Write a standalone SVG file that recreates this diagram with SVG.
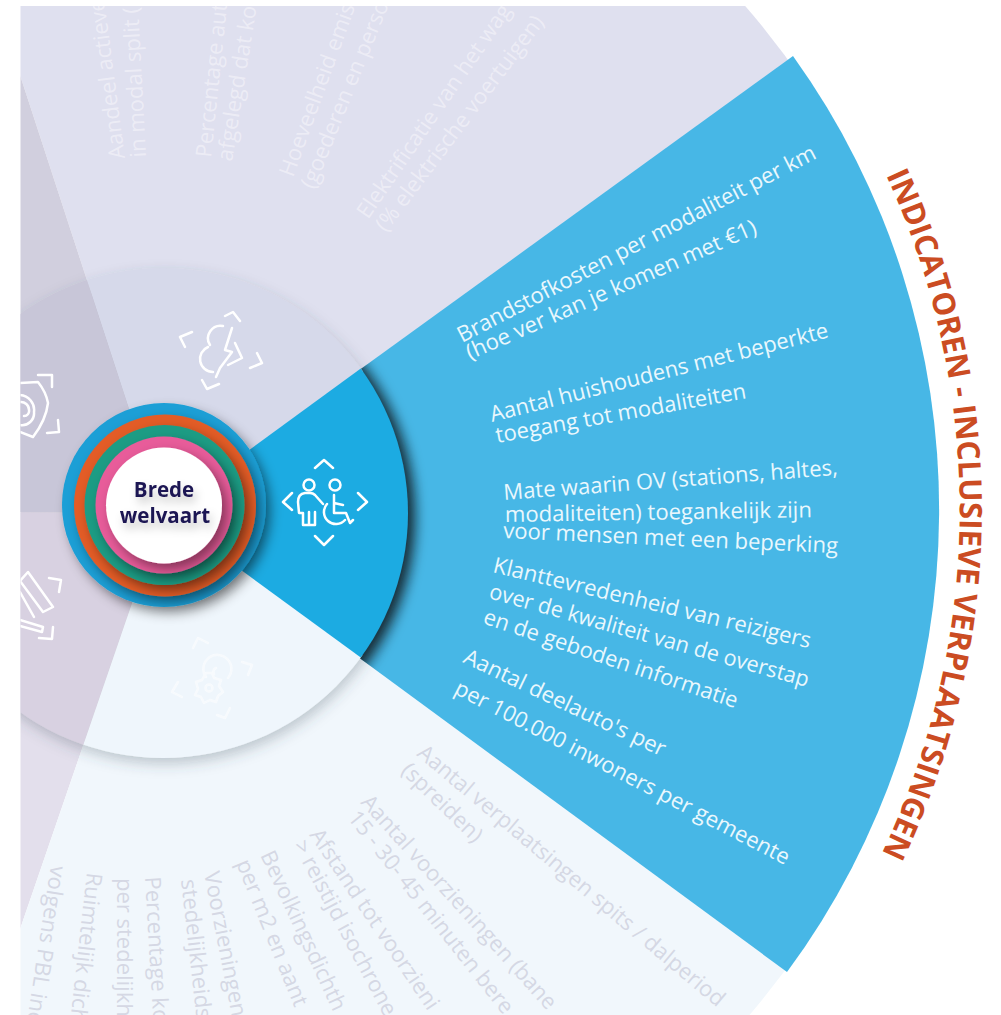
<svg xmlns="http://www.w3.org/2000/svg" width="1001" height="1015" viewBox="0 0 1001 1015">
<style>
text{font-family:"Open Sans","Noto Sans","DejaVu Sans",sans-serif}
.w{fill:#eaf7fd;font-size:22px}
.l{fill:#fff;fill-opacity:.42;font-size:22px}
.p{fill:#d5d8e4;font-size:22px}
.i{fill:none;stroke:#fff;stroke-width:2.5;stroke-linecap:round;stroke-linejoin:round}
.t{fill:#cb4c22;font-size:31px;font-weight:700}
.c{fill:#1b1452;font-size:20.5px;font-weight:700;text-anchor:middle}
</style>
<defs>
<clipPath id="page"><rect x="20.5" y="6" width="981" height="1009"/></clipPath>
<clipPath id="outer"><circle cx="163" cy="513" r="772"/></clipPath>
<clipPath id="ringc"><circle cx="163" cy="513" r="245"/></clipPath>
<clipPath id="bluec"><path d="M162,513L793,56A778,778 0 0 1 787,972Z"/></clipPath>
<filter id="soft" x="-20%" y="-20%" width="140%" height="140%"><feDropShadow dx="2" dy="6" stdDeviation="7" flood-color="#3d4a58" flood-opacity=".28"/></filter>
<filter id="blur" x="-20%" y="-20%" width="140%" height="140%"><feGaussianBlur stdDeviation="7"/></filter>
<filter id="disc" x="-30%" y="-30%" width="170%" height="170%"><feDropShadow dx="5" dy="6" stdDeviation="6" flood-color="#000" flood-opacity=".42"/></filter>
<filter id="tsh" x="-30%" y="-60%" width="170%" height="240%"><feDropShadow dx="3" dy="6" stdDeviation="5" flood-color="#000" flood-opacity=".22"/></filter>
<path id="arc" d="M886,175A797,797 0 0 1 881,855"/>
</defs>
<rect width="1001" height="1015" fill="#fff"/>
<g clip-path="url(#page)">
<g id="outer-sectors" clip-path="url(#outer)">
<path fill="#dfe0ef" d="M163,513L-11,-20L-11,-300L1100,-300L1100,-60Z"/>
<path fill="#d1cfde" d="M163,513L-11,-20L-20,-20L-20,512L163,512Z"/>
<path fill="#e3dfec" d="M163,513L-20,512L-20,1040L-18,1040Z"/>
<path fill="#f1f7fc" d="M163,513L-18,1040L1100,1040L1100,1100Z"/>
</g>
<path id="indicator-sector" fill="#47b7e6" d="M162,513L793,56A778,778 0 0 1 787,972Z"/>
<g clip-path="url(#bluec)"><circle cx="168" cy="517" r="246" fill="#000" fill-opacity=".85" filter="url(#blur)"/></g>
<g id="ring" filter="url(#soft)">
<g clip-path="url(#ringc)">
<path fill="#d6d9ea" d="M163,513L-11,-20L1001,-80Z"/>
<path fill="#c8c6d8" d="M163,513L-11,-20L-20,-20L-20,512L163,512Z"/>
<path fill="#d8d1e1" d="M163,513L-20,512L-20,1040L-18,1040Z"/>
<path fill="#eff6fc" d="M163,513L-18,1040L1100,1040L1100,1180Z"/>
<path fill="#1dabe2" d="M163,513L1001,-99L1100,513L1001,1125Z"/>
</g>
</g>
<g id="icon-top" class="i">
<path d="M225,316L233,312L240,321M180,337L192,332M180,337L185,347M250,368L262,363L257,353M202,380L207,389L219,384"/>
<path d="M223,326A12.5,12.5 0 0 0 210,345M208,347A13,13 0 0 0 213,372"/>
<path d="M232,328L225,350L232,352L220,368L216,377M235,343L242,358L228,365"/>
</g>
<g id="icon-left-top" class="i">
<path d="M38,375L52,375L52,387M47,433L59,432L58,420"/>
<path d="M20,383L38,382Q46,392 48,403Q46,420 33,437L20,432"/>
<path d="M20,395A15,15 0 0 1 34,412A12,12 0 0 1 20,425M20,402A8,8 0 0 1 29,410A5,5 0 0 1 24,416"/>
</g>
<g id="icon-left-bottom" class="i">
<path d="M49,578L61,580L59,592M39,638L52,639L53,627"/>
<path d="M20,581L28,572L53,607L43,612L20,581M20,592L34,617M20,620L43,627L42,632L20,626"/>
</g>
<g id="icon-bottom" class="i" opacity=".55">
<path d="M193,648L198,638L208,643M242,662L252,665L248,675M178,682L172,692L182,697M217,715L225,718L230,708"/>
<path d="M206,677A14,14 0 1 1 228,678M216,668A4,4 0 0 0 214,674"/>
<path d="M206,673L212,673L214,678L221,680L219,686L223,692L218,696L216,702L210,700L204,703L201,697L195,695L198,689L196,682L202,680Z"/>
<circle cx="209" cy="688" r="3.5"/>
</g>
<g id="icon-inclusive" class="i">
<path d="M315,468L324,460L333,468M315,536L324,545L333,536M292,493L283,502L292,510M358,493L367,502L358,510"/>
<circle cx="309" cy="485" r="5.5"/><circle cx="335" cy="485" r="5.5"/>
<path d="M323,504L315,495Q313,493 310,493L305,493Q298,494 298,502L299,513L303,513L303,525L315,525L315,512M309,512L309,525"/>
<path d="M334,495L334,513L346,513L350,523L353,520M334,503L343,505M327,504A12,12 0 1 0 345,520"/>
</g>
<g id="core">
<circle cx="164" cy="505" r="102" fill="#1b9fd6" filter="url(#disc)"/>
<circle cx="165" cy="505.5" r="91" fill="#e35c27" filter="url(#disc)"/>
<circle cx="164.5" cy="505" r="80" fill="#1f9c84" filter="url(#disc)"/>
<circle cx="164" cy="505" r="68.5" fill="#e85c9a" filter="url(#disc)"/>
<circle cx="164" cy="505.5" r="58" fill="#fff" filter="url(#disc)"/>
<g filter="url(#tsh)">
<text class="c" x="164" y="497">Brede</text>
<text class="c" x="165" y="523">welvaart</text>
</g>
</g>
<g id="faint-top" class="l">
<text transform="translate(125,158) rotate(-97.5)">Aandeel actieve</text>
<text transform="translate(146,157) rotate(-93)">in modal split (</text>
<text transform="translate(211,158) rotate(-84)">Percentage aut</text>
<text transform="translate(232,162) rotate(-81)">afgelegd dat ko</text>
<text transform="translate(293,178) rotate(-70)">Hoeveelheid emis</text>
<text transform="translate(314,190) rotate(-68)">(goederen en perso</text>
<text transform="translate(368,220) rotate(-55.5)">Elektrificatie van het wag</text>
<text transform="translate(386,233) rotate(-53)">(% elektrische voertuigen)</text>
</g>
<g id="indicators" class="w">
<text transform="translate(462,343) rotate(-27.5)" textLength="401" lengthAdjust="spacingAndGlyphs">Brandstofkosten per modaliteit per km</text>
<text transform="translate(470,360) rotate(-23.8)" textLength="315" lengthAdjust="spacingAndGlyphs">(hoe ver kan je komen met €1)</text>
<text transform="translate(492,422) rotate(-14.1)" textLength="348" lengthAdjust="spacingAndGlyphs">Aantal huishoudens met beperkte</text>
<text transform="translate(497,443) rotate(-10.2)" textLength="254" lengthAdjust="spacingAndGlyphs">toegang tot modaliteiten</text>
<text transform="translate(504,500) rotate(-4.3)" textLength="335" lengthAdjust="spacingAndGlyphs">Mate waarin OV (stations, haltes,</text>
<text transform="translate(505,522) rotate(-.9)" textLength="307" lengthAdjust="spacingAndGlyphs">modaliteiten) toegankelijk zijn</text>
<text transform="translate(503,538) rotate(2.6)" textLength="335" lengthAdjust="spacingAndGlyphs">voor mensen met een beperking</text>
<text transform="translate(492,572) rotate(13.5)" textLength="326" lengthAdjust="spacingAndGlyphs">Klanttevredenheid van reizigers</text>
<text transform="translate(488,598) rotate(15.6)" textLength="331" lengthAdjust="spacingAndGlyphs">over de kwaliteit van de overstap</text>
<text transform="translate(482,623) rotate(18.6)" textLength="267" lengthAdjust="spacingAndGlyphs">en de geboden informatie</text>
<text transform="translate(462,662) rotate(25.4)" textLength="221" lengthAdjust="spacingAndGlyphs">Aantal deelauto's per</text>
<text transform="translate(453,693) rotate(27.4)" textLength="374" lengthAdjust="spacingAndGlyphs">per 100.000 inwoners per gemeente</text>
</g>
<g id="faint-bottom" class="p">
<text transform="translate(416,755) rotate(40)">Aantal verplaatsingen spits / dalperiod</text>
<text transform="translate(400,772) rotate(44)">(spreiden)</text>
<text transform="translate(360,803) rotate(48)">Aantal voorzieningen (bane</text>
<text transform="translate(347,818) rotate(51.6)">15 - 30- 45 minuten bere</text>
<text transform="translate(309,835) rotate(56)">Afstand tot voorzieni</text>
<text transform="translate(293,845) rotate(62)">&gt; reistijd isochrone</text>
<text transform="translate(260,855) rotate(65)">Bevolkingsdichth</text>
<text transform="translate(236,863) rotate(68)">per m2 en aant</text>
<text transform="translate(204,873) rotate(79)">Voorzieningen</text>
<text transform="translate(181,880) rotate(83.6)">stedelijkheids</text>
<text transform="translate(145,877) rotate(86.7)">Percentage ko</text>
<text transform="translate(117,878) rotate(90)">per stedelijkh</text>
<text transform="translate(87,872) rotate(96.4)">Ruimtelijk dich</text>
<text transform="translate(51,865) rotate(98.7)">volgens PBL inc</text>
</g>
</g>
<text id="title" class="t"><textPath href="#arc" textLength="701" lengthAdjust="spacingAndGlyphs">INDICATOREN - INCLUSIEVE VERPLAATSINGEN</textPath></text>
</svg>
